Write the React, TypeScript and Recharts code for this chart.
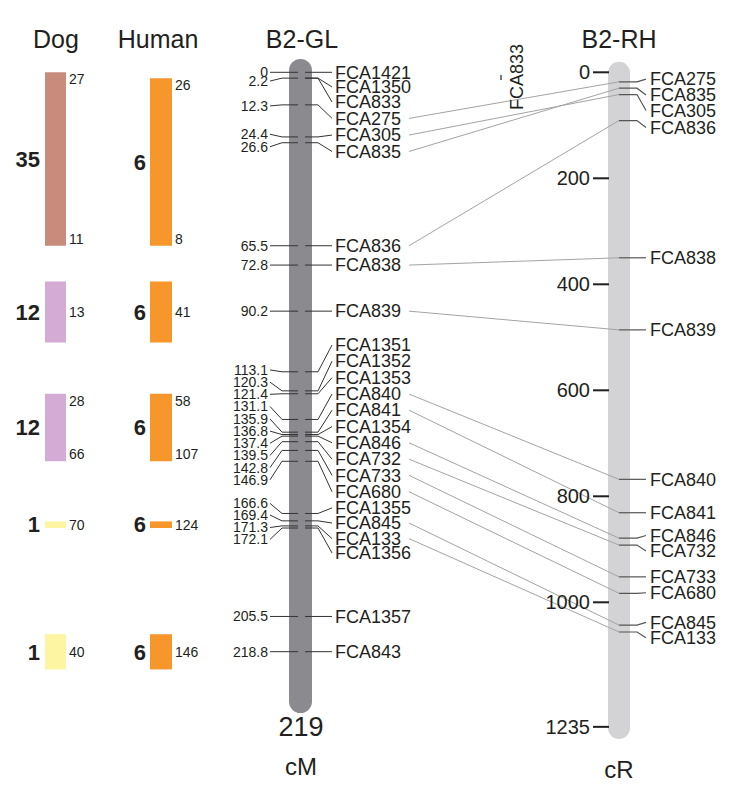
import React from "react";
import {
  ComposedChart,
  XAxis,
  YAxis,
  Line,
  Scatter,
  ReferenceArea,
  ReferenceLine,
} from "recharts";

document.body.style.margin = "0";
document.body.style.overflow = "hidden";

// conserved segments, placed along B2-GL (cM)
const dogChr = ["35", "12", "12", "1", "1"];
const dogStart = [0, 79, 121.4, 169.6, 212.2];
const dogEnd = [65.5, 102, 146.9, 172.1, 225.5];
const dogMarks = [["27", "11"], ["13"], ["28", "66"], ["70"], ["40"]];

const humanChr = ["6", "6", "6", "6", "6"];
const humanStart = [2.2, 79, 121.4, 169.6, 212.2];
const humanEnd = [65.5, 102, 146.9, 172.1, 225.5];
const humanMarks = [["26", "8"], ["41"], ["58", "107"], ["124"], ["146"]];

// B2 linkage map
const glMarkers = [
  "FCA1421", "FCA1350", "FCA833", "FCA275", "FCA305", "FCA835", "FCA836",
  "FCA838", "FCA839", "FCA1351", "FCA1352", "FCA1353", "FCA840", "FCA841",
  "FCA1354", "FCA846", "FCA732", "FCA733", "FCA680", "FCA1355", "FCA845",
  "FCA133", "FCA1356", "FCA1357", "FCA843",
];
const glCm = [
  0, 2.2, 2.2, 12.3, 24.4, 26.6, 65.5, 72.8, 90.2, 113.1, 120.3, 121.4, 131.1,
  135.9, 136.8, 137.4, 139.5, 142.8, 146.9, 166.6, 169.4, 171.3, 172.1, 205.5,
  218.8,
];
const glLength = 219;

// B2 radiation hybrid map
const rhMarkers = [
  "FCA275", "FCA835", "FCA305", "FCA836", "FCA838", "FCA839", "FCA840",
  "FCA841", "FCA846", "FCA732", "FCA733", "FCA680", "FCA845", "FCA133",
];
const rhCr = [18, 30, 42, 91, 350, 486, 768, 831, 879, 892, 952, 983, 1043, 1056];
const rhTicks = [0, 200, 400, 600, 800, 1000, 1235];
const unplaced = "FCA833";

// ---- layout ----
const W = 750;
const H = 802;
const Y0 = 72.3; // row of 0 on both maps
const CM_PX = 2.648;
const CR_PX = 0.53;
const cmDomain = [-Y0 / CM_PX, (H - Y0) / CM_PX];
const crDomain = [-Y0 / CR_PX, (H - Y0) / CR_PX];
const crToCm = (v: number) => (v * CR_PX) / CM_PX;
const px = (n: number) => n / CM_PX;

// where the spread-out labels sit (cM / cR)
const glLeftAt = [
  0, 3.3, null, 12.7, 23.4, 28.1, 65.5, 72.8, 90.2, 112.4, 117.0, 121.6, 126.2,
  130.9, 135.5, 140.1, 144.7, 149.3, 153.9, 162.8, 167.2, 171.9, 176.4, 205.5,
  218.8,
];
const glRightAt = [
  0, 5.55, 11.2, 17.4, 23.7, 29.9, 65.5, 72.8, 90.2, 103.0, 109.1, 115.3, 121.5,
  127.6, 133.8, 139.9, 146.1, 152.2, 158.4, 164.5, 170.2, 176.1, 181.5, 205.5,
  218.8,
];
const rhLabelAt = [13, 43, 72, 104, 350, 486, 768, 831, 874, 903, 952, 982, 1038, 1067];

const chrColor: Record<string, string> = {
  "35": "#c98b7b",
  "12": "#d4abd4",
  "1": "#fdf5a1",
  "6": "#f7972b",
};
const FONT = '"Liberation Sans", Arial, Helvetica, sans-serif';
const INK = "#231f20";

type Pt = { x: number; y: number; label?: string };

const textShape =
  (size: number, anchor: string, weight = "normal", rotate = false) =>
  (p: any) => (
    <text
      x={p.cx}
      y={p.cy}
      dy="0.35em"
      fontSize={size}
      fontWeight={weight}
      textAnchor={anchor}
      fontFamily={FONT}
      fill={INK}
      transform={rotate ? `rotate(-90 ${p.cx} ${p.cy})` : undefined}
    >
      {p.payload.label}
    </text>
  );

const texts = (
  key: string,
  axis: string,
  pts: Pt[],
  size: number,
  anchor: string,
  weight = "normal",
  rotate = false
) => (
  <Scatter
    key={key}
    yAxisId={axis}
    data={pts}
    dataKey="y"
    isAnimationActive={false}
    shape={textShape(size, anchor, weight, rotate)}
  />
);

const poly = (key: string, axis: string, pts: Pt[], stroke: string, width = 1) => (
  <Line
    key={key}
    yAxisId={axis}
    data={pts}
    dataKey="y"
    type="linear"
    stroke={stroke}
    strokeWidth={width}
    dot={false}
    activeDot={false}
    isAnimationActive={false}
  />
);

const blockLabels = (starts: number[], ends: number[], marks: string[][], x: number): Pt[] =>
  starts.flatMap((s, i) =>
    marks[i].length === 2
      ? [
          { x, y: s + px(7), label: marks[i][0] },
          { x, y: ends[i] - px(7), label: marks[i][1] },
        ]
      : [{ x, y: (s + ends[i]) / 2, label: marks[i][0] }]
  );

const chrLabels = (starts: number[], ends: number[], chr: string[], x: number): Pt[] =>
  chr.map((c, i) => ({ x, y: (starts[i] + ends[i]) / 2, label: c }));

const blocks = (prefix: string, starts: number[], ends: number[], chr: string[], x1: number, x2: number) =>
  starts.map((s, i) => (
    <ReferenceArea
      key={`${prefix}-${i}`}
      yAxisId="cm"
      x1={x1}
      x2={x2}
      y1={s}
      y2={ends[i]}
      fill={chrColor[chr[i]]}
      fillOpacity={1}
      stroke="none"
      ifOverflow="visible"
    />
  ));

export default function App() {
  const headers: Pt[] = [
    { x: 56, y: px(39 - Y0), label: "Dog" },
    { x: 158, y: px(39 - Y0), label: "Human" },
    { x: 302, y: px(39 - Y0), label: "B2-GL" },
    { x: 619, y: px(39 - Y0), label: "B2-RH" },
  ];

  return (
    <ComposedChart width={W} height={H} margin={{ top: 0, right: 0, bottom: 0, left: 0 }}>
      <XAxis type="number" dataKey="x" domain={[0, W]} hide allowDataOverflow />
      <YAxis yAxisId="cm" type="number" dataKey="y" domain={cmDomain} reversed hide allowDataOverflow />
      <YAxis yAxisId="cr" type="number" dataKey="y" domain={crDomain} reversed hide allowDataOverflow />

      {/* chromosomes */}
      <ReferenceArea
        yAxisId="cm"
        x1={289}
        x2={312}
        y1={px(59 - Y0)}
        y2={px(713 - Y0)}
        ifOverflow="visible"
        shape={(p: any) => (
          <rect x={p.x} y={p.y} width={p.width} height={p.height} rx={11.5} ry={11.5} fill="#8b8b8f" />
        )}
      />
      <ReferenceArea
        yAxisId="cr"
        x1={608}
        x2={630}
        y1={(61.7 - Y0) / CR_PX}
        y2={(739 - Y0) / CR_PX}
        ifOverflow="visible"
        shape={(p: any) => (
          <rect x={p.x} y={p.y} width={p.width} height={p.height} rx={11} ry={11} fill="#d3d3d5" />
        )}
      />

      {/* dog / human segments */}
      {blocks("dog", dogStart, dogEnd, dogChr, 45, 66)}
      {blocks("hum", humanStart, humanEnd, humanChr, 150, 172)}

      {/* GL leaders */}
      {glMarkers.map((m, i) =>
        glLeftAt[i] == null
          ? null
          : poly(`gll-${m}`, "cm", [
              { x: 270, y: glLeftAt[i] as number },
              { x: 282, y: glCm[i] },
              { x: 298, y: glCm[i] },
            ], "#333333", 1)
      )}
      {glMarkers.map((m, i) =>
        poly(`glr-${m}`, "cm", [
          { x: 305, y: glCm[i] },
          { x: 318, y: glCm[i] },
          { x: 332, y: glRightAt[i] },
        ], "#333333", 1)
      )}

      {/* GL -> RH connectors */}
      {rhMarkers.map((m, i) => {
        const g = glMarkers.indexOf(m);
        return poly(`con-${m}`, "cm", [
          { x: 409, y: glRightAt[g] },
          { x: 619, y: crToCm(rhCr[i]) },
        ], "#a3a3a3", 1);
      })}

      {/* RH leaders */}
      {rhMarkers.map((m, i) =>
        poly(`rh-${m}`, "cr", [
          { x: 619, y: rhCr[i] },
          { x: 637, y: rhCr[i] },
          { x: 646, y: rhLabelAt[i] },
        ], "#555555", 1.2)
      )}

      {/* RH scale */}
      {rhTicks.map((t) => (
        <ReferenceLine
          key={`tick-${t}`}
          yAxisId="cr"
          segment={[{ x: 593, y: t }, { x: 609, y: t }]}
          stroke={INK}
          strokeWidth={2}
          ifOverflow="visible"
        />
      ))}
      <ReferenceLine
        yAxisId="cm"
        segment={[{ x: 501, y: px(75 - Y0) }, { x: 501, y: px(80 - Y0) }]}
        stroke={INK}
        strokeWidth={1.2}
        ifOverflow="visible"
      />

      {/* text */}
      {texts("headers", "cm", headers, 25, "middle")}
      {texts("dog-chr", "cm", chrLabels(dogStart, dogEnd, dogChr, 40), 22, "end", "bold")}
      {texts("hum-chr", "cm", chrLabels(humanStart, humanEnd, humanChr, 146), 22, "end", "bold")}
      {texts("dog-ends", "cm", blockLabels(dogStart, dogEnd, dogMarks, 69), 14, "start")}
      {texts("hum-ends", "cm", blockLabels(humanStart, humanEnd, humanMarks, 175), 14, "start")}
      {texts(
        "gl-left",
        "cm",
        glMarkers
          .map((m, i) => ({ x: 268, y: glLeftAt[i] as number, label: String(glCm[i]) }))
          .filter((_, i) => glLeftAt[i] != null),
        14,
        "end"
      )}
      {texts("gl-right", "cm", glMarkers.map((m, i) => ({ x: 335, y: glRightAt[i], label: m })), 18, "start")}
      {texts("rh-right", "cr", rhMarkers.map((m, i) => ({ x: 650, y: rhLabelAt[i], label: m })), 18, "start")}
      {texts("rh-ticks", "cr", rhTicks.map((t) => ({ x: 590, y: t, label: String(t) })), 20, "end")}
      {texts("unplaced", "cm", [{ x: 517, y: px(77 - Y0), label: unplaced }], 18, "middle", "normal", true)}
      {texts("gl-len", "cm", [{ x: 301, y: px(727 - Y0), label: String(glLength) }], 27, "middle")}
      {texts(
        "units",
        "cm",
        [
          { x: 301, y: px(767 - Y0), label: "cM" },
          { x: 619, y: px(770 - Y0), label: "cR" },
        ],
        24,
        "middle"
      )}
    </ComposedChart>
  );
}
